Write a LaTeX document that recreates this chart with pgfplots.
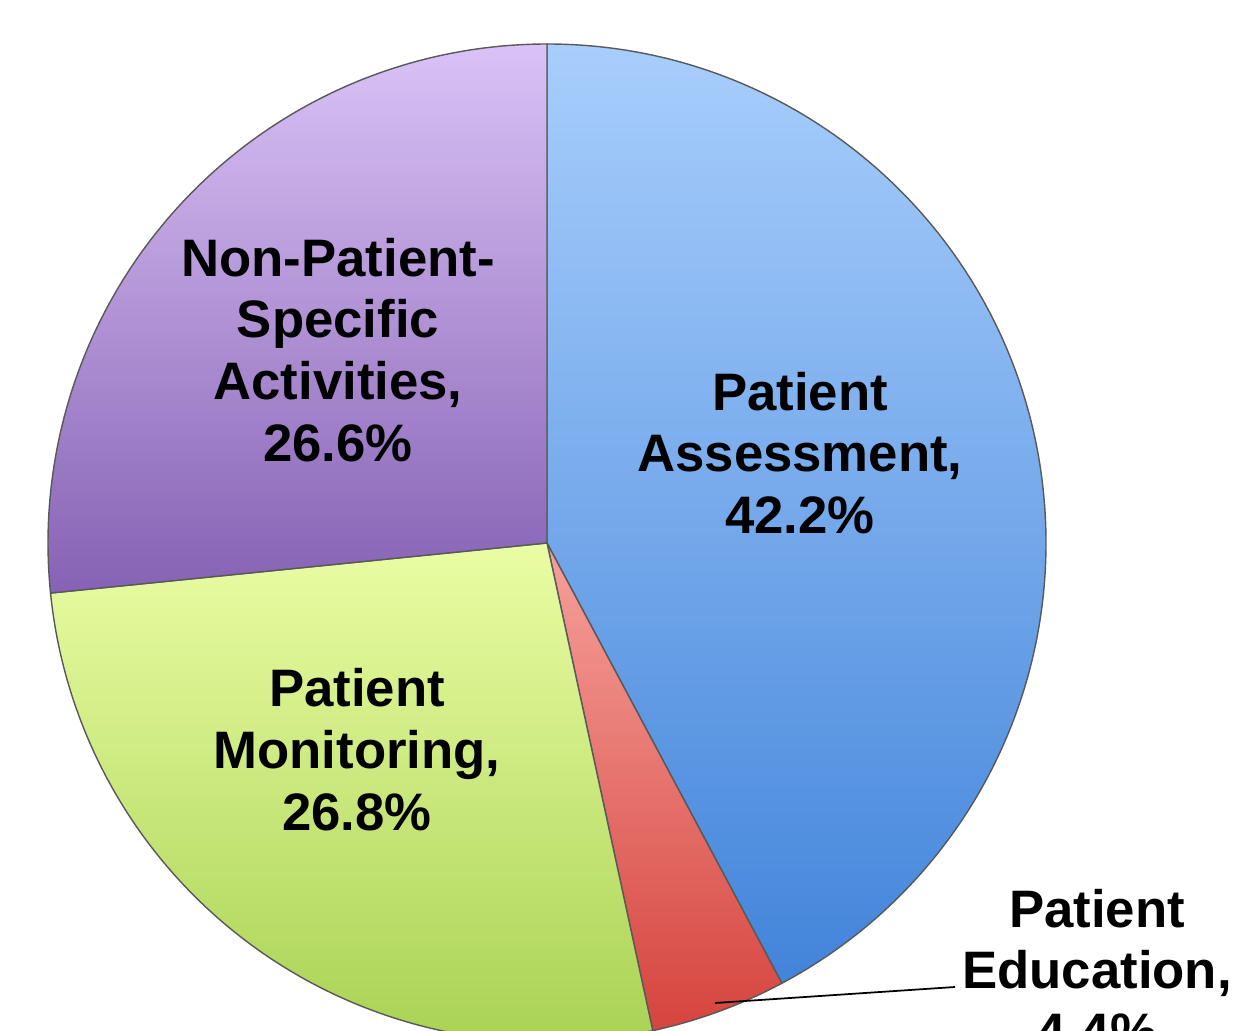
\documentclass[border=0pt]{standalone}
\usepackage{pgfplots}
\pgfplotsset{compat=1.18}
\usepackage{pgfplotstable}
\usepackage{fontspec}
\setmainfont{Liberation Sans}

\definecolor{bluetop}{RGB}{168,206,252}
\definecolor{bluebot}{RGB}{66,132,218}
\definecolor{redtop}{RGB}{246,160,154}
\definecolor{redbot}{RGB}{214,68,62}
\definecolor{greentop}{RGB}{234,253,164}
\definecolor{greenbot}{RGB}{166,208,80}
\definecolor{purptop}{RGB}{218,194,246}
\definecolor{purpbot}{RGB}{134,98,180}

\pgfplotstableread{
label value
Assessment 42.2
Education 4.4
Monitoring 26.8
NonPatient 26.6
}\piedata

\pgfplotstablegetelem{0}{value}\of\piedata \let\vA\pgfplotsretval
\pgfplotstablegetelem{1}{value}\of\piedata \let\vB\pgfplotsretval
\pgfplotstablegetelem{2}{value}\of\piedata \let\vC\pgfplotsretval
\pgfplotstablegetelem{3}{value}\of\piedata \let\vD\pgfplotsretval
\pgfmathsetmacro\aA{90-3.6*\vA}
\pgfmathsetmacro\aB{\aA-3.6*\vB}
\pgfmathsetmacro\aC{\aB-3.6*\vC}
\pgfmathsetmacro\aD{\aC-3.6*\vD}

\begin{document}
\begin{tikzpicture}
\begin{axis}[
  at={(0,0)}, anchor=south west,
  scale only axis, width=12.38cm, height=10.30cm,
  xmin=0, xmax=1238, ymin=0, ymax=1030,
  axis lines=none, clip=false,
]
\def\R{49.9mm}
\shade[top color=bluetop, bottom color=bluebot, draw=black!65, line width=0.4pt]
  (axis cs:547,487) -- ++(90:\R) arc[start angle=90, end angle=\aA, radius=\R] -- cycle;
\shade[top color=redtop, bottom color=redbot, draw=black!65, line width=0.4pt]
  (axis cs:547,487) -- ++(\aA:\R) arc[start angle=\aA, end angle=\aB, radius=\R] -- cycle;
\shade[top color=greentop, bottom color=greenbot, draw=black!65, line width=0.4pt]
  (axis cs:547,487) -- ++(\aB:\R) arc[start angle=\aB, end angle=\aC, radius=\R] -- cycle;
\shade[top color=purptop, bottom color=purpbot, draw=black!65, line width=0.4pt]
  (axis cs:547,487) -- ++(\aC:\R) arc[start angle=\aC, end angle=\aD, radius=\R] -- cycle;

\draw[black, line width=0.5pt] (axis cs:715,27) -- (axis cs:955,43);

\tikzset{lbl/.style={align=center, font=\bfseries\fontsize{15}{17.6}\selectfont, inner sep=0pt}}
\node[lbl] at (axis cs:338,680) {Non-Patient-\\Specific\\Activities,\\26.6\%};
\node[lbl] at (axis cs:800,577) {Patient\\Assessment,\\42.2\%};
\node[lbl] at (axis cs:357,280) {Patient\\Monitoring,\\26.8\%};
\node[lbl] at (axis cs:1097,60) {Patient\\Education,\\4.4\%};
\end{axis}
\pgfresetboundingbox
\path[use as bounding box] (0,0) rectangle (12.38cm,10.30cm);
\end{tikzpicture}
\end{document}
